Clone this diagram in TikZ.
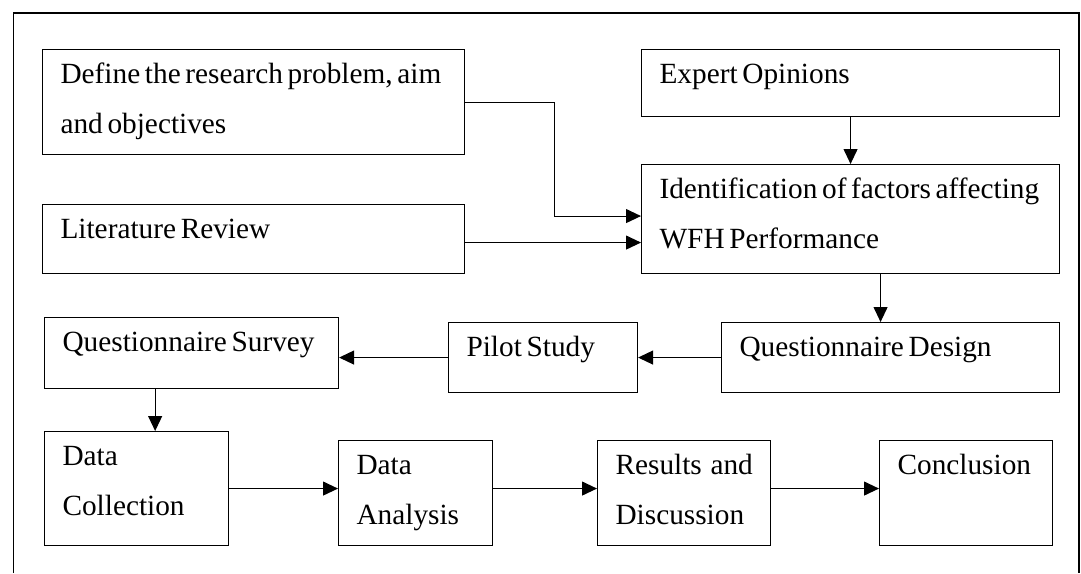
\documentclass[tikz,border=0pt]{standalone}
\usepackage{fontspec}
\setmainfont{Liberation Serif}
\usetikzlibrary{arrows.meta}

\tikzset{
	stage/.style={draw, line width=1.1pt, anchor=north west, align=left, inner xsep=18pt, inner ysep=0pt, text height=34pt, font=\fontsize{29.3}{50}\selectfont,
		execute at begin node={\spaceskip=0.16em plus 0.1em\relax}},
	flow/.style={line width=1.1pt, -{Triangle[length=15pt,width=14pt]}}
}

\begin{document}
\begin{tikzpicture}[x=1pt,y=-1pt]
				\useasboundingbox (0,0) rectangle (1081,573);
				\draw[line width=1.6pt] (13.3,573) -- (13.3,12.7) -- (1079,12.7) -- (1079,573);
				\node[stage, text width=386pt, text depth=71pt] (def) at (42,49) {Define the research problem, aim\\and objectives};
				\node[stage, text width=386pt, text depth=35pt] (lit) at (42,204) {Literature Review};
				\node[stage, text width=382pt, text depth=33pt] (exp) at (641,49) {Expert Opinions};
				\node[stage, text width=382pt, text depth=75pt] (ident) at (641,164) {Identification of factors affecting\\WFH Performance};
				\node[stage, text width=302pt, text depth=36pt] (qd) at (721,322) {Questionnaire Design};
				\node[stage, text width=153pt, text depth=36pt] (pilot) at (448,322) {Pilot Study};
				\node[stage, text width=258pt, text depth=37pt] (qs) at (44,317) {Questionnaire Survey};
				\node[stage, text width=148pt, text depth=80pt] (dc) at (44,431) {Data\\Collection};
				\node[stage, text width=118pt, text depth=71pt] (da) at (338,440) {Data\\Analysis};
				\node[stage, text width=137pt, text depth=71pt] (res) at (597,440) {Results~\hspace{4pt}and\\Discussion};
				\node[stage, text width=137pt, text depth=71pt] (conc) at (879,440) {Conclusion};
				% connectors
				\draw[flow] (def.east) -- ++(89,0) |- ([yshift=3pt]ident.west);
				\draw[flow] ([yshift=-3.5pt]lit.east) -- ([yshift=-3.5pt]lit.east -| ident.west);
				\draw[flow] (exp.south) -- (ident.north);
				\draw[flow] ([xshift=30pt]ident.south) -- ([xshift=30pt]ident.south |- qd.north);
				\draw[flow] (qd.west) -- (pilot.east);
				\draw[flow] (pilot.west) -- (pilot.west -| qs.east);
				\draw[flow] ([xshift=-36.4pt]qs.south) -- ([xshift=-36.4pt]qs.south |- dc.north);
				\draw[flow] (dc.east) -- (dc.east -| da.west);
				\draw[flow] (da.east |- dc.east) -- (res.west |- dc.east);
				\draw[flow] (res.east |- dc.east) -- (conc.west |- dc.east);
			\end{tikzpicture}
\end{document}
